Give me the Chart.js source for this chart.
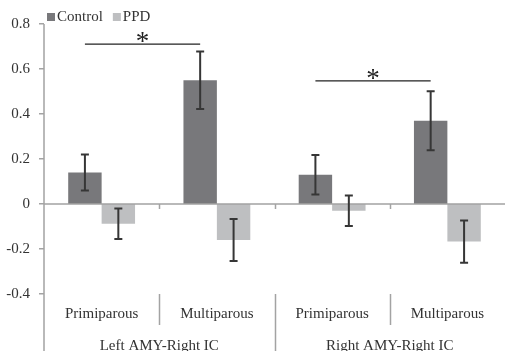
<!DOCTYPE html>
<html>
<head>
<meta charset="utf-8">
<script src="https://cdn.jsdelivr.net/npm/chart.js@4.4.1/dist/chart.umd.min.js"></script>
<style>
  html, body { margin: 0; padding: 0; background: #fff; }
  #wrap { width: 505px; height: 351px; position: relative; }
</style>
</head>
<body>
<div id="wrap"><canvas id="chart"></canvas></div>
<script>
// Data
const categories = ['Primiparous', 'Multiparous', 'Primiparous', 'Multiparous'];
const groups = ['Left AMY-Right IC', 'Right AMY-Right IC'];
const seriesNames = ['Control', 'PPD'];
const controlValues = [0.14, 0.55, 0.13, 0.37];
const controlErrors = [0.08, 0.128, 0.088, 0.131];
const ppdValues = [-0.088, -0.16, -0.03, -0.167];
const ppdErrors = [0.068, 0.093, 0.068, 0.094];
const yMin = -0.4, yMax = 0.8, yStep = 0.2;
// significance brackets: between control bars of two categories, at a value height
const sigFrom = [0, 2];
const sigTo = [1, 3];
const sigLevel = [0.711, 0.547];
const sigText = ['*', '*'];

const FONT = '"Liberation Serif", "Times New Roman", serif';
const AXIS = '#a3a3a3';
const COLORS = ['#78787b', '#bebfc1'];

const annotations = {
    id: 'annotations',
    afterDatasetsDraw(chart) {
        const { ctx, chartArea, scales } = chart;
        const x = scales.x, y = scales.y;
        const y0 = y.getPixelForValue(0);
        ctx.save();

        // zero line + axis lines
        ctx.strokeStyle = AXIS;
        ctx.lineWidth = 1.5;
        ctx.beginPath();
        ctx.moveTo(chartArea.left, y0);
        ctx.lineTo(chart.width, y0);
        ctx.moveTo(chartArea.left, chartArea.top);
        ctx.lineTo(chartArea.left, chart.height);
        ctx.stroke();

        // category boundary ticks + separators
        const step = (chartArea.right - chartArea.left) / categories.length;
        ctx.beginPath();
        for (let i = 1; i < categories.length; i++) {
            const bx = Math.round(chartArea.left + step * i) + 0.5;
            ctx.moveTo(bx, y0);
            ctx.lineTo(bx, y0 + 5);
            ctx.moveTo(bx, chartArea.bottom);
            ctx.lineTo(bx, i % 2 === 0 ? chart.height : chartArea.bottom + 31);
        }
        ctx.stroke();

        // error bars
        ctx.strokeStyle = '#363636';
        ctx.lineWidth = 2;
        [controlErrors, ppdErrors].forEach((errs, di) => {
            const meta = chart.getDatasetMeta(di);
            const vals = chart.data.datasets[di].data;
            meta.data.forEach((bar, i) => {
                const top = y.getPixelForValue(vals[i] + errs[i]);
                const bot = y.getPixelForValue(vals[i] - errs[i]);
                ctx.beginPath();
                ctx.moveTo(bar.x, top); ctx.lineTo(bar.x, bot);
                ctx.moveTo(bar.x - 4, top); ctx.lineTo(bar.x + 4, top);
                ctx.moveTo(bar.x - 4, bot); ctx.lineTo(bar.x + 4, bot);
                ctx.stroke();
            });
        });

        // significance brackets
        const ctrl = chart.getDatasetMeta(0).data;
        ctx.strokeStyle = '#222';
        ctx.lineWidth = 1.3;
        ctx.fillStyle = '#222';
        ctx.font = '27px ' + FONT;
        ctx.textAlign = 'center';
        ctx.textBaseline = 'alphabetic';
        sigFrom.forEach((f, k) => {
            const x1 = ctrl[f].x, x2 = ctrl[sigTo[k]].x;
            const ly = y.getPixelForValue(sigLevel[k]);
            ctx.beginPath();
            ctx.moveTo(x1, ly); ctx.lineTo(x2, ly);
            ctx.stroke();
            ctx.fillText(sigText[k], (x1 + x2) / 2, ly + 6);
        });

        // group labels
        ctx.font = '15px ' + FONT;
        ctx.fillStyle = '#333';
        ctx.textBaseline = 'middle';
        groups.forEach((g, gi) => {
            const gx = chartArea.left + step * (gi * 2 + 1);
            ctx.fillText(g, gx, chartArea.bottom + 52);
        });

        // legend
        ctx.textAlign = 'left';
        let lx = chartArea.left + 3;
        const ly = 17;
        seriesNames.forEach((name, i) => {
            ctx.fillStyle = COLORS[i];
            ctx.fillRect(lx, ly - 4, 8, 8);
            lx += 10;
            ctx.fillStyle = '#333';
            ctx.fillText(name, lx, ly);
            lx += ctx.measureText(name).width + 10;
        });
        ctx.restore();
    }
};

new Chart(document.getElementById('chart'), {
    type: 'bar',
    data: {
        labels: categories,
        datasets: [
            { label: seriesNames[0], data: controlValues, backgroundColor: COLORS[0],
              categoryPercentage: 0.58, barPercentage: 1.0 },
            { label: seriesNames[1], data: ppdValues, backgroundColor: COLORS[1],
              categoryPercentage: 0.58, barPercentage: 1.0 }
        ]
    },
    options: {
        responsive: true,
        maintainAspectRatio: false,
        animation: false,
        layout: { padding: { top: 24, right: 0, bottom: 0, left: 0 } },
        plugins: {
            legend: { display: false },
            tooltip: { enabled: false }
        },
        scales: {
            x: {
                grid: { display: false },
                border: { display: false },
                ticks: { color: '#333', font: { family: FONT, size: 15 }, padding: 3, maxRotation: 0 },
                afterFit: (scale) => { scale.height = 57; }
            },
            y: {
                min: yMin,
                max: yMax,
                grid: { drawOnChartArea: false, color: AXIS, tickLength: 5, lineWidth: 1.5 },
                border: { display: false },
                ticks: {
                    stepSize: yStep,
                    color: '#333',
                    font: { family: FONT, size: 15 },
                    padding: 9,
                    callback: (v) => Math.abs(v) < 1e-9 ? '0' : v.toFixed(1)
                },
                afterFit: (scale) => { scale.width = 44; }
            }
        }
    },
    plugins: [annotations]
});
</script>
</body>
</html>
